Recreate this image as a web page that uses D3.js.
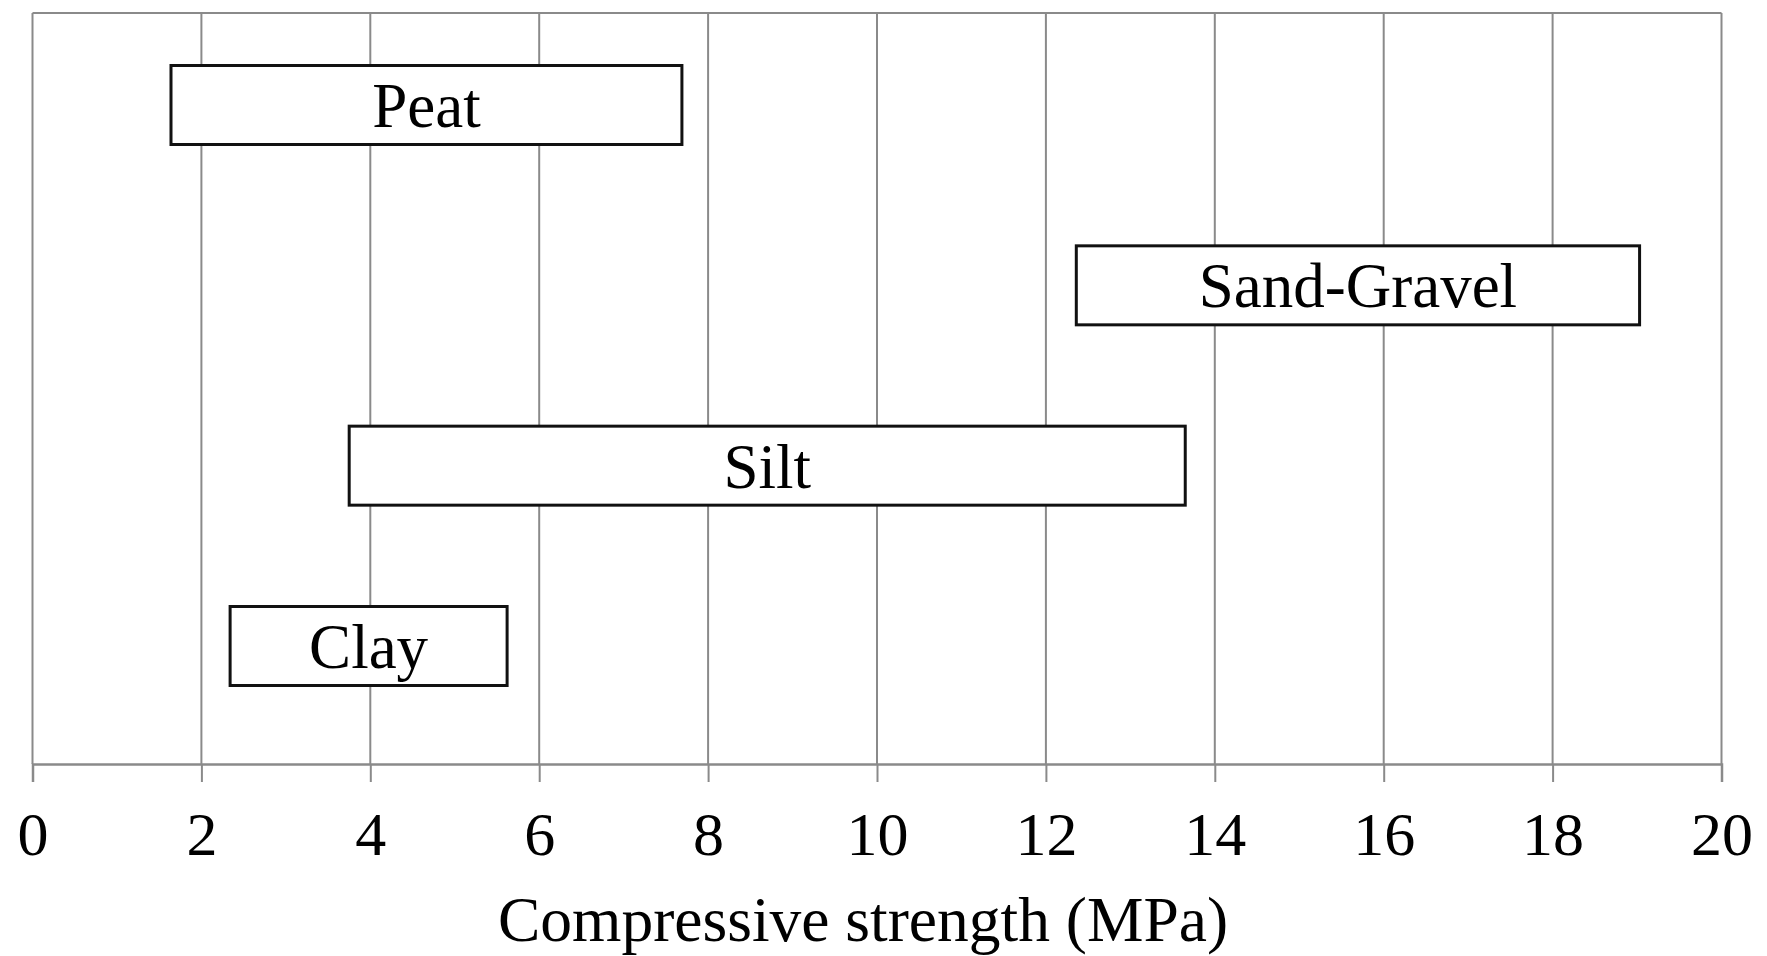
<!DOCTYPE html>
<html>
<head>
<meta charset="utf-8">
<script src="https://cdn.jsdelivr.net/npm/d3@7"></script>
<style>
  html, body { margin: 0; padding: 0; background: #fff; }
  svg { display: block; }
  text { font-family: "Liberation Serif", "Times New Roman", serif; fill: #000; }
</style>
</head>
<body>
<svg id="chart" width="1767" height="956"></svg>
<script>
// Data
const categories = ["Peat", "Sand-Gravel", "Silt", "Clay"];
const rangeMin = [1.64, 12.36, 3.75, 2.34];
const rangeMax = [7.69, 19.03, 13.65, 5.62];
const xTicks = [0, 2, 4, 6, 8, 10, 12, 14, 16, 18, 20];
const xTitle = "Compressive strength (MPa)";

(function () {
const svg = d3.select("#chart");
const mLeft = 32.5, mRight = 1721.5, mTop = 13, mBottom = 764;

const x = d3.scaleLinear().domain([0, 20]).range([mLeft, mRight]);
const y = d3.scalePoint().domain(categories).range([105, 646]);
const barH = 79;

const gridColor = "#8a8a8a";

// vertical grid lines
svg.append("g").selectAll("line").data(xTicks).join("line")
  .attr("x1", d => x(d)).attr("x2", d => x(d))
  .attr("y1", mTop).attr("y2", mBottom)
  .attr("stroke", gridColor).attr("stroke-width", 2);

// top border
svg.append("line")
  .attr("x1", mLeft).attr("x2", mRight).attr("y1", mTop).attr("y2", mTop)
  .attr("stroke", gridColor).attr("stroke-width", 2);

// x axis
const axis = d3.axisBottom(x).tickValues(xTicks).tickSize(18).tickPadding(29).tickFormat(d3.format("d"));
const gx = svg.append("g").attr("transform", `translate(0,${mBottom})`).call(axis);
gx.select(".domain").attr("stroke", gridColor).attr("stroke-width", 2.5);
gx.selectAll(".tick line").attr("stroke", gridColor).attr("stroke-width", 2);
gx.selectAll(".tick text")
  .style("font-family", '"Liberation Serif", "Times New Roman", serif')
  .attr("font-size", 62).attr("fill", "#000");

// axis title
svg.append("text")
  .attr("x", (mLeft + mRight) / 2 - 14)
  .attr("y", 941)
  .attr("text-anchor", "middle")
  .attr("font-size", 63.5)
  .text(xTitle);

// bars
const rows = categories.map((c, i) => ({ c, lo: rangeMin[i], hi: rangeMax[i] }));
const g = svg.append("g");
g.selectAll("rect").data(rows).join("rect")
  .attr("x", d => x(d.lo))
  .attr("width", d => x(d.hi) - x(d.lo))
  .attr("y", d => y(d.c) - barH / 2)
  .attr("height", barH)
  .attr("fill", "#fff")
  .attr("stroke", "#111")
  .attr("stroke-width", 3);

g.selectAll("text").data(rows).join("text")
  .attr("x", d => (x(d.lo) + x(d.hi)) / 2)
  .attr("y", d => y(d.c) + 22)
  .attr("text-anchor", "middle")
  .attr("font-size", 63)
  .text(d => d.c);
})();
</script>
</body>
</html>
